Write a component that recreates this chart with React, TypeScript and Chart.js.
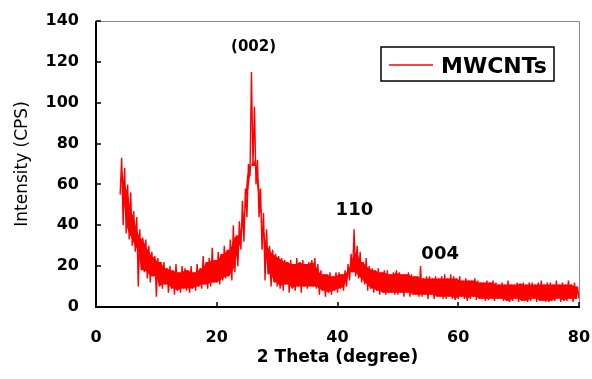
import React, { useEffect, useRef } from 'react';
import { Chart, registerables } from 'chart.js';

Chart.register(...registerables);

const seriesLabel = 'MWCNTs';
const xTitle = '2 Theta (degree)';
const yTitle = 'Intensity (CPS)';
const startAngle = 4;
const angleStep = 0.25;

// intensity readings, 0.25° apart, starting at 4°
const intensity = [
  55, 73, 40, 68, // 4
  36, 60, 33, 56, // 5
  30, 47, 27, 44, // 6
  10, 38, 18, 34, // 7
  17, 33, 14, 30, // 8
  12, 27, 15, 25, // 9
  5, 24, 10, 22, // 10
  9, 22, 11, 19, // 11
  7, 20, 9, 18, // 12
  6, 21, 8, 17, // 13
  7, 20, 9, 19, // 14
  8, 18, 7, 20, // 15
  9, 17, 8, 21, // 16
  10, 19, 9, 25, // 17
  11, 22, 9, 24, // 18
  10, 29, 12, 23, // 19
  12, 27, 11, 26, // 20
  13, 30, 14, 28, // 21
  15, 33, 13, 40, // 22
  17, 35, 20, 42, // 23
  28, 52, 32, 58, // 24
  44, 70, 64, 115, // 25
  69, 98, 60, 72, // 26
  44, 58, 28, 46, // 27
  13, 38, 16, 30, // 28
  10, 28, 12, 26, // 29
  10, 25, 9, 24, // 30
  8, 23, 11, 22, // 31
  7, 23, 9, 21, // 32
  8, 24, 10, 22, // 33
  7, 23, 10, 21, // 34
  9, 22, 10, 23, // 35
  10, 24, 9, 21, // 36
  6, 18, 8, 16, // 37
  5, 16, 7, 17, // 38
  6, 15, 8, 17, // 39
  7, 17, 9, 16, // 40
  8, 18, 10, 21, // 41
  13, 26, 17, 38, // 42
  15, 30, 14, 27, // 43
  12, 22, 11, 24, // 44
  8, 20, 9, 19, // 45
  7, 18, 8, 19, // 46
  6, 17, 7, 18, // 47
  6, 18, 7, 16, // 48
  7, 17, 6, 18, // 49
  6, 17, 7, 16, // 50
  5, 16, 7, 17, // 51
  5, 16, 6, 15, // 52
  6, 15, 5, 20, // 53
  5, 14, 6, 15, // 54
  4, 15, 6, 14, // 55
  4, 15, 5, 14, // 56
  5, 15, 4, 16, // 57
  4, 14, 5, 16, // 58
  4, 15, 3.5, 14, // 59
  4, 15, 5, 13, // 60
  4, 14, 3, 13, // 61
  4, 13, 5, 14, // 62
  3.5, 13, 4, 12, // 63
  4, 12, 3, 13, // 64
  3.5, 12, 4, 13, // 65
  3, 12, 4, 11, // 66
  4, 12, 3, 11, // 67
  3, 13, 2.5, 11, // 68
  3, 11, 4, 12, // 69
  2.5, 11.5, 3, 12, // 70
  3, 11, 2.5, 12, // 71
  3, 12, 4, 11, // 72
  2.5, 12, 3, 13, // 73
  3, 11, 2.5, 12, // 74
  2.5, 12, 3, 11, // 75
  3, 13, 4, 11, // 76
  2.5, 12, 3, 11, // 77
  3, 13, 4, 11, // 78
  2.5, 12, 4, 10, // 79
  4, // 80
];

const xMin = 0;
const xMax = 80;
const xStep = 20;
const yMin = 0;
const yMax = 140;
const yStep = 20;

const peakLabels = ['(002)', '110', '004'];
const peakLabelX = [26.1, 42.8, 57.0];
const peakLabelY = [127, 47.5, 25.7];

const FONT = '"DejaVu Sans", "Liberation Sans", Arial, sans-serif';
const RED = '#ff0000';

const decorPlugin = {
  id: 'decor',
  afterDraw(chart: any) {
    const { ctx, chartArea: a, scales } = chart;
    const xs = scales.x;
    const ys = scales.y;
    ctx.save();

    // top & right frame (gray)
    ctx.strokeStyle = '#8a8a8a';
    ctx.lineWidth = 1;
    ctx.beginPath();
    ctx.moveTo(a.left, a.top + 0.5);
    ctx.lineTo(a.right + 0.5, a.top + 0.5);
    ctx.lineTo(a.right + 0.5, a.bottom);
    ctx.stroke();

    // black axes
    ctx.strokeStyle = '#000';
    ctx.lineWidth = 2;
    ctx.beginPath();
    ctx.moveTo(a.left, a.top);
    ctx.lineTo(a.left, a.bottom);
    ctx.lineTo(a.right + 1, a.bottom);
    ctx.stroke();

    // inside tick marks
    ctx.lineWidth = 1.5;
    ctx.beginPath();
    xs.ticks.forEach((t: any) => {
      const px = Math.round(xs.getPixelForValue(t.value));
      ctx.moveTo(px, a.bottom);
      ctx.lineTo(px, a.bottom - 5);
    });
    ys.ticks.forEach((t: any) => {
      const py = Math.round(ys.getPixelForValue(t.value));
      ctx.moveTo(a.left, py);
      ctx.lineTo(a.left + 5, py);
    });
    ctx.stroke();

    // peak annotations
    ctx.fillStyle = '#000';
    ctx.textAlign = 'center';
    ctx.textBaseline = 'middle';
    peakLabels.forEach((txt, i) => {
      const size = i === 0 ? 15 : 18;
      ctx.font = `bold ${size}px ${FONT}`;
      ctx.fillText(txt, xs.getPixelForValue(peakLabelX[i]), ys.getPixelForValue(peakLabelY[i]));
    });

    // legend box
    const ds = chart.data.datasets[0];
    const bx = a.right - 198;
    const by = a.top + 26;
    const bw = 173;
    const bh = 34;
    ctx.fillStyle = '#fff';
    ctx.fillRect(bx, by, bw, bh);
    ctx.strokeStyle = '#000';
    ctx.lineWidth = 1.5;
    ctx.strokeRect(bx, by, bw, bh);
    ctx.strokeStyle = ds.borderColor;
    ctx.lineWidth = 1.5;
    ctx.beginPath();
    ctx.moveTo(bx + 8, by + 18);
    ctx.lineTo(bx + 52, by + 18);
    ctx.stroke();
    ctx.fillStyle = '#000';
    ctx.font = `bold 22px ${FONT}`;
    ctx.textAlign = 'left';
    ctx.textBaseline = 'alphabetic';
    ctx.fillText(ds.label, bx + 60, by + 26);

    ctx.restore();
  },
};

export default function App() {
  const canvasRef = useRef<HTMLCanvasElement | null>(null);

  useEffect(() => {
    if (!canvasRef.current) return;
    const points = intensity.map((v, i) => ({ x: startAngle + i * angleStep, y: v }));
    // dense core of the noise band: between neighbouring crests and troughs
    const crests = points.filter((_, i) => i % 2 === 1);
    const troughs = points.filter((_, i) => i % 2 === 0);
    const coreUpper = crests.map((p, j) => ({
      x: p.x,
      y: Math.min(p.y, (crests[j - 1] || p).y, (crests[j + 1] || p).y),
    }));
    const coreLower = troughs.map((p, j) => ({
      x: p.x,
      y: Math.max(p.y, (troughs[j - 1] || p).y, (troughs[j + 1] || p).y),
    }));
    const chart = new Chart(canvasRef.current, {
      type: 'line',
      data: {
        datasets: [
          {
            label: seriesLabel,
            data: points,
            borderColor: RED,
            borderWidth: 1.4,
            borderJoinStyle: 'bevel',
            pointRadius: 0,
            tension: 0,
            fill: false,
            order: 0,
          },
          {
            label: 'core-upper',
            data: coreUpper,
            borderColor: RED,
            borderWidth: 0,
            backgroundColor: RED,
            pointRadius: 0,
            tension: 0,
            fill: '+1',
            order: 1,
          },
          {
            label: 'core-lower',
            data: coreLower,
            borderColor: RED,
            borderWidth: 0,
            pointRadius: 0,
            tension: 0,
            fill: false,
            order: 2,
          },
        ],
      },
      options: {
        animation: false,
        responsive: true,
        maintainAspectRatio: false,
        devicePixelRatio: 1,
        layout: { padding: { top: 21, right: 13, left: 0, bottom: 0 } },
        plugins: {
          legend: { display: false },
          tooltip: { enabled: false },
        },
        scales: {
          x: {
            type: 'linear',
            min: xMin,
            max: xMax,
            grid: { display: false, drawTicks: false },
            border: { display: false },
            ticks: {
              stepSize: xStep,
              padding: 21,
              color: '#000',
              maxRotation: 0,
              font: { family: FONT, size: 16, weight: 'bold' },
            },
            title: {
              display: true,
              text: xTitle,
              color: '#000',
              padding: 11,
              font: { family: FONT, size: 17, weight: 'bold' },
            },
            afterFit: (s: any) => {
              s.height = 72;
              s.paddingLeft = 0;
              s.paddingRight = 0;
            },
          },
          y: {
            type: 'linear',
            min: yMin,
            max: yMax,
            grid: { display: false, drawTicks: false },
            border: { display: false },
            ticks: {
              stepSize: yStep,
              padding: 17,
              color: '#000',
              font: { family: FONT, size: 16, weight: 'bold' },
            },
            title: {
              display: true,
              text: yTitle,
              color: '#000',
              padding: 12,
              font: { family: FONT, size: 17, weight: 'normal' },
            },
            afterFit: (s: any) => {
              s.width = 96;
              s.paddingTop = 0;
              s.paddingBottom = 0;
            },
          },
        },
      },
      plugins: [decorPlugin],
    });
    return () => chart.destroy();
  }, []);

  return (
    <div style={{ position: 'fixed', left: 0, top: 0, width: 592, height: 379, background: '#fff' }}>
      <canvas ref={canvasRef} />
    </div>
  );
}
